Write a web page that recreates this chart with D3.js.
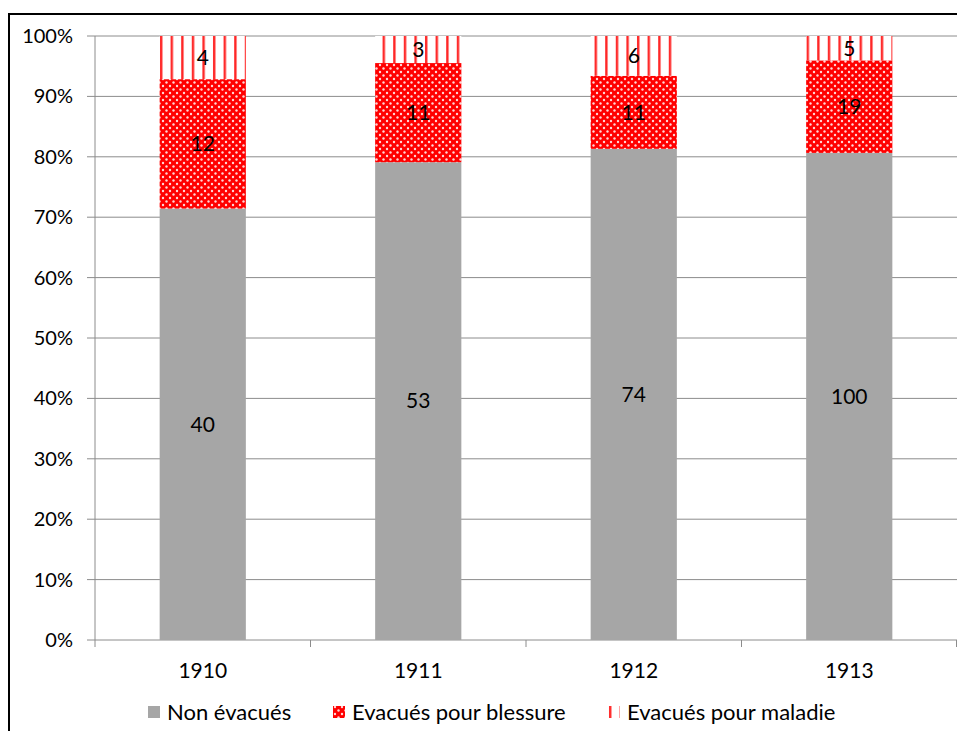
<!DOCTYPE html>
<html lang="fr">
<head>
<meta charset="utf-8">
<title>Evacués par année</title>
<script src="https://d3js.org/d3.v7.min.js"></script>
<style>
  body { margin: 0; background: #fff; }
  svg { display: block; font-family: Lato, "Open Sans", sans-serif; }
  text { fill: #000; }
</style>
</head>
<body>
<script>
// données
var annees = ["1910", "1911", "1912", "1913"];
var nonEvacues = [40, 53, 74, 100];
var blessure = [12, 11, 11, 19];
var maladie = [4, 3, 6, 5];
var series = ["Non évacués", "Evacués pour blessure", "Evacués pour maladie"];
var yTicks = [0, 0.1, 0.2, 0.3, 0.4, 0.5, 0.6, 0.7, 0.8, 0.9, 1];

var w = 957, h = 731;
var m = {left: 95, right: 957, top: 36, bottom: 640};

var svg = d3.select("body").append("svg")
  .attr("width", w).attr("height", h);

var defs = svg.append("defs");
// motif pointillé (blessure)
var pd = defs.append("pattern").attr("id", "dots")
  .attr("patternUnits", "userSpaceOnUse")
  .attr("width", 7).attr("height", 7);
pd.append("rect").attr("width", 7).attr("height", 7).attr("fill", "#ff0000");
pd.append("circle").attr("cx", 2).attr("cy", 2).attr("r", 1.2).attr("fill", "#ffd6d6");
pd.append("circle").attr("cx", 5.5).attr("cy", 5.5).attr("r", 1.2).attr("fill", "#ffd6d6");
// motif rayé (maladie)
var ps = defs.append("pattern").attr("id", "stripes")
  .attr("patternUnits", "userSpaceOnUse")
  .attr("width", 10.6).attr("height", 10);
ps.append("rect").attr("width", 10.6).attr("height", 10).attr("fill", "#fff");
ps.append("rect").attr("x", 1).attr("width", 2.4).attr("height", 10).attr("fill", "#ff2626");

var fills = ["#a6a6a6", "url(#dots)", "url(#stripes)"];

// données empilées en pourcentages
var table = annees.map(function(a, i) {
  return {annee: a, vals: [nonEvacues[i], blessure[i], maladie[i]]};
});
table.forEach(function(d) {
  var tot = d3.sum(d.vals), acc = 0;
  d.segs = d.vals.map(function(v, k) {
    var s = {k: k, v: v, y0: acc / tot, y1: (acc + v) / tot};
    acc += v;
    return s;
  });
});

var x = d3.scaleBand().domain(annees).range([m.left, m.right]).padding(0);
var y = d3.scaleLinear().domain([0, 1]).range([m.bottom, m.top]);
var barW = x.bandwidth() * 0.4;

// quadrillage
svg.append("g").selectAll("line").data(yTicks).join("line")
  .attr("x1", m.left - 8).attr("x2", m.right)
  .attr("y1", d => y(d)).attr("y2", d => y(d))
  .attr("stroke", "#8c8c8c").attr("stroke-width", 1);

// axe y
svg.append("line").attr("x1", m.left).attr("x2", m.left)
  .attr("y1", m.top).attr("y2", m.bottom)
  .attr("stroke", "#8c8c8c");
svg.append("g").selectAll("text").data(yTicks).join("text")
  .attr("x", 73).attr("y", d => y(d)).attr("dy", "0.35em")
  .attr("text-anchor", "end").style("font-size", "20px")
  .text(d3.format(".0%"));

// axe x
var bounds = annees.map(a => x(a)).concat([m.right - 0.5]);
svg.append("g").selectAll("line").data(bounds).join("line")
  .attr("x1", d => d).attr("x2", d => d)
  .attr("y1", m.bottom).attr("y2", m.bottom + 7)
  .attr("stroke", "#8c8c8c");
svg.append("g").selectAll("text").data(annees).join("text")
  .attr("x", d => x(d) + x.bandwidth() / 2).attr("y", 671).attr("dy", "0.35em")
  .attr("text-anchor", "middle").style("font-size", "21px")
  .text(d => d);

// barres
var g = svg.append("g").selectAll("g").data(table).join("g");
g.selectAll("rect").data(d => d.segs.map(s => Object.assign({annee: d.annee}, s))).join("rect")
  .attr("x", d => x(d.annee) + (x.bandwidth() - barW) / 2)
  .attr("width", barW)
  .attr("y", d => y(d.y1))
  .attr("height", d => y(d.y0) - y(d.y1))
  .attr("fill", d => fills[d.k]);
g.selectAll("text").data(d => d.segs.map(s => Object.assign({annee: d.annee}, s))).join("text")
  .attr("x", d => x(d.annee) + x.bandwidth() / 2)
  .attr("y", d => y((d.y0 + d.y1) / 2)).attr("dy", "0.35em")
  .attr("text-anchor", "middle").style("font-size", "21px")
  .text(d => d.v);

// légende
var legX = [148, 333, 608];
var leg = svg.append("g").selectAll("g").data(series).join("g")
  .attr("transform", (d, i) => "translate(" + legX[i] + ",712)");
leg.append("rect").attr("x", 0).attr("y", -6).attr("width", 12).attr("height", 12)
  .attr("fill", (d, i) => fills[i]);
leg.append("text").attr("x", 19).attr("dy", "0.35em").style("font-size", "22px")
  .text(d => d);

// cadre
svg.append("line").attr("x1", 8).attr("x2", w).attr("y1", 14).attr("y2", 14)
  .attr("stroke", "#000").attr("stroke-width", 2);
svg.append("line").attr("x1", 9).attr("x2", 9).attr("y1", 14).attr("y2", h)
  .attr("stroke", "#000").attr("stroke-width", 2);
</script>
</body>
</html>
